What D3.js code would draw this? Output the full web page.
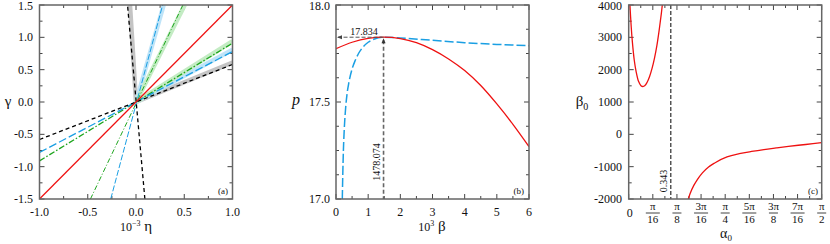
<!DOCTYPE html>
<html><head><meta charset="utf-8">
<script src="https://cdn.jsdelivr.net/npm/d3@7"></script>
<style>body{margin:0;background:#fff}text{font-family:"Liberation Serif","DejaVu Serif",serif;fill:#111}</style>
</head><body><svg id="c" width="830" height="244"></svg>
<script>
// ---------- Panel (a) data ----------
const aXTicks = [-1.0, -0.5, 0.0, 0.5, 1.0];
const aYTicks = [-1.5, -1.0, -0.5, 0.0, 0.5, 1.0, 1.5];
const etaEnds = [-1, 1];
const blackShallowGamma = [-0.58, 0.58];
const blueShallowGamma = [-0.78, 0.78];
const greenShallowGamma = [-0.91, 0.91];
const redGamma = [-1.5, 1.5];
const gammaEnds = [-1.5, 1.5];
const blackSteepEta = [0.092, -0.088];
const blueSteepEta = [-0.262, 0.276];
const greenSteepEta = [-0.472, 0.486];
// shaded bands (gamma > 0 half)
const bandEtaShallow = [0, 1];
const grayBandShallowGamma = [0, 0.61];
const blueBandShallowGamma = [0, 0.81];
const greenBandShallowGamma = [0, 0.94];
const bandGammaSteep = [0, 1.5];
const grayBandSteepEta = [0, -0.062];
const blueBandSteepEta = [0, 0.287];
const greenBandSteepEta = [0, 0.505];

// ---------- Panel (b) data ----------
const bXTicks = [0, 1, 2, 3, 4, 5, 6];
const bYTicks = [17.0, 17.5, 18.0];
const bRedBeta = [0, 0.5, 1.0, 1.478, 2.0, 2.5, 3.0, 3.5, 4.0, 4.5, 5.0, 5.5, 6.0];
const bRedP = [17.775, 17.808, 17.828, 17.834, 17.827, 17.806, 17.770, 17.722, 17.662, 17.585, 17.490, 17.385, 17.270];
const bBlueBeta = [0.196, 0.21, 0.23, 0.26, 0.30, 0.35, 0.40, 0.50, 0.60, 0.70, 0.80, 1.0, 1.2, 1.478, 2.0, 3.0, 4.0, 5.0, 6.0];
const bBlueP = [17.0, 17.12, 17.25, 17.37, 17.47, 17.55, 17.60, 17.67, 17.715, 17.750, 17.775, 17.808, 17.825, 17.834, 17.830, 17.818, 17.806, 17.797, 17.790];
const peakBeta = 1.478074, peakP = 17.834;

// ---------- Panel (c) data ----------
const cYTicks = [-2000, -1000, 0, 1000, 2000, 3000, 4000];
const cXTickNum = ["", "π", "π", "3π", "π", "5π", "3π", "7π", "π"];
const cXTickDen = ["", "16", "8", "16", "4", "16", "8", "16", "2"];
const cLeftAlpha = [0.010, 0.020, 0.030, 0.045, 0.060, 0.080, 0.100, 0.115, 0.130, 0.150, 0.170, 0.190, 0.210, 0.230, 0.250, 0.265, 0.275];
const cLeftBeta  = [4000, 3350, 2850, 2300, 1950, 1640, 1505, 1480, 1500, 1610, 1790, 2040, 2360, 2760, 3280, 3720, 4050];
const cRightAlpha = [0.485, 0.50, 0.53, 0.56, 0.60, 0.65, 0.70, 0.80, 0.90, 1.0, 1.1, 1.2, 1.3, 1.4, 1.5, 1.5708];
const cRightBeta  = [-2000, -1830, -1580, -1390, -1190, -1010, -885, -700, -600, -530, -470, -420, -372, -330, -290, -258];
const alphaMark = 0.343;

// ---------- helpers ----------
const svg = d3.select("#c");
const TOP = 5, BOT = 199;

function frame(g, x, y, xMaj, xMin, yMaj, yMin, id) {
  const [x0, x1] = x.range(), [y1, y0] = y.range();
  g.append("clipPath").attr("id", id).append("rect")
    .attr("x", x0).attr("y", y0).attr("width", x1 - x0).attr("height", y1 - y0);
  const t = g.append("g").attr("stroke", "#444").attr("stroke-width", 1);
  const tk = (arr, len) => {
    arr.forEach(v => {
      const px = x(v);
      t.append("line").attr("x1", px).attr("x2", px).attr("y1", y1).attr("y2", y1 - len);
      t.append("line").attr("x1", px).attr("x2", px).attr("y1", y0).attr("y2", y0 + len);
    });
  };
  const tky = (arr, len) => {
    arr.forEach(v => {
      const py = y(v);
      t.append("line").attr("y1", py).attr("y2", py).attr("x1", x0).attr("x2", x0 + len);
      t.append("line").attr("y1", py).attr("y2", py).attr("x1", x1).attr("x2", x1 - len);
    });
  };
  tk(xMaj, 5); tk(xMin, 3); tky(yMaj, 5); tky(yMin, 3);
}
function border(g, x, y) {
  const [x0, x1] = x.range(), [y1, y0] = y.range();
  g.append("rect").attr("x", x0).attr("y", y0).attr("width", x1 - x0).attr("height", y1 - y0)
    .attr("fill", "none").attr("stroke", "#666").attr("stroke-width", 1.5);
}
const seg = (g, x, y, xs, ys, clip) => g.append("path")
  .attr("d", d3.line().x(d => x(d[0])).y(d => y(d[1]))(xs.map((v, i) => [v, ys[i]])))
  .attr("fill", "none").attr("clip-path", `url(#${clip})`);

// ---------- Panel (a) ----------
{
  const g = svg.append("g");
  const x = d3.scaleLinear().domain([-1, 1]).range([39.5, 232.5]);
  const y = d3.scaleLinear().domain([-1.5, 1.5]).range([BOT, TOP]);
  frame(g, x, y, aXTicks, [-0.75, -0.25, 0.25, 0.75], aYTicks, [-1.25, -0.75, -0.25, 0.25, 0.75, 1.25], "clipA");
  // bands
  seg(g, x, y, bandEtaShallow, grayBandShallowGamma, "clipA").attr("stroke", "#c4c4c4").attr("stroke-width", 4.5);
  seg(g, x, y, grayBandSteepEta, bandGammaSteep, "clipA").attr("stroke", "#c4c4c4").attr("stroke-width", 4.5);
  seg(g, x, y, bandEtaShallow, blueBandShallowGamma, "clipA").attr("stroke", "#bfe4f8").attr("stroke-width", 4.5);
  seg(g, x, y, blueBandSteepEta, bandGammaSteep, "clipA").attr("stroke", "#bfe4f8").attr("stroke-width", 4.5);
  seg(g, x, y, bandEtaShallow, greenBandShallowGamma, "clipA").attr("stroke", "#c4ecc4").attr("stroke-width", 4.5);
  seg(g, x, y, greenBandSteepEta, bandGammaSteep, "clipA").attr("stroke", "#c4ecc4").attr("stroke-width", 4.5);
  // lines
  seg(g, x, y, etaEnds, greenShallowGamma, "clipA").attr("stroke", "#1ea51e").attr("stroke-width", 1.3).attr("stroke-dasharray", "6,2,1.5,2");
  seg(g, x, y, greenSteepEta, gammaEnds, "clipA").attr("stroke", "#1ea51e").attr("stroke-width", 1).attr("stroke-dasharray", "5,2,1,2");
  seg(g, x, y, etaEnds, blueShallowGamma, "clipA").attr("stroke", "#1a9fe3").attr("stroke-width", 1.3).attr("stroke-dasharray", "8,3");
  seg(g, x, y, blueSteepEta, gammaEnds, "clipA").attr("stroke", "#1a9fe3").attr("stroke-width", 1).attr("stroke-dasharray", "6,2");
  seg(g, x, y, etaEnds, blackShallowGamma, "clipA").attr("stroke", "#000").attr("stroke-width", 1.3).attr("stroke-dasharray", "4,3");
  seg(g, x, y, blackSteepEta, gammaEnds, "clipA").attr("stroke", "#000").attr("stroke-width", 1.3).attr("stroke-dasharray", "4,3");
  seg(g, x, y, etaEnds, redGamma, "clipA").attr("stroke", "#ee1111").attr("stroke-width", 1.3);
  border(g, x, y);
  aXTicks.forEach(v => g.append("text").attr("x", x(v)).attr("y", 216).attr("text-anchor", "middle").attr("font-size", 12).text(v.toFixed(1)));
  aYTicks.forEach(v => g.append("text").attr("x", 33).attr("y", Math.max(y(v) + 4, 10)).attr("text-anchor", "end").attr("font-size", 12).text(v.toFixed(1)));
  g.append("text").attr("x", 8).attr("y", 106).attr("text-anchor", "middle").attr("font-size", 15).text("γ");
  const xl = g.append("text").attr("x", 136).attr("y", 231).attr("text-anchor", "middle").attr("font-size", 12);
  xl.append("tspan").text("10");
  xl.append("tspan").attr("font-size", 8).attr("dy", -5).text("−3");
  xl.append("tspan").attr("font-size", 15).attr("dy", 5).text(" η");
  g.append("text").attr("x", 228).attr("y", 194).attr("text-anchor", "end").attr("font-size", 9).text("(a)");
}

// ---------- Panel (b) ----------
{
  const g = svg.append("g");
  const x = d3.scaleLinear().domain([0, 6]).range([336, 529]);
  const y = d3.scaleLinear().domain([17, 18]).range([BOT, TOP]);
  frame(g, x, y, bXTicks, [0.5, 1.5, 2.5, 3.5, 4.5, 5.5], bYTicks, [17.125, 17.25, 17.375, 17.625, 17.75, 17.875], "clipB");
  seg(g, x, y, bBlueBeta, bBlueP, "clipB").attr("d", d3.line().curve(d3.curveMonotoneX).x(d => x(d[0])).y(d => y(d[1]))(bBlueBeta.map((v, i) => [v, bBlueP[i]])))
    .attr("stroke", "#1a9fe3").attr("stroke-width", 1.5).attr("stroke-dasharray", "9,3");
  seg(g, x, y, bRedBeta, bRedP, "clipB").attr("d", d3.line().curve(d3.curveMonotoneX).x(d => x(d[0])).y(d => y(d[1]))(bRedBeta.map((v, i) => [v, bRedP[i]])))
    .attr("stroke", "#ee1111").attr("stroke-width", 1.3);
  // annotations
  const px = x(peakBeta), py = y(peakP);
  g.append("line").attr("x1", px).attr("x2", x(0) + 2).attr("y1", py).attr("y2", py)
    .attr("stroke", "#555").attr("stroke-width", 1).attr("stroke-dasharray", "4,2");
  g.append("path").attr("d", `M${x(0) + 1},${py} l5,-2 l0,4 z`).attr("fill", "#444");
  g.append("line").attr("x1", px).attr("x2", px).attr("y1", py + 3).attr("y2", BOT)
    .attr("stroke", "#666").attr("stroke-width", 1.6).attr("stroke-dasharray", "4,2.5");
  g.append("path").attr("d", `M${px},${py + 1} l-2,5 l4,0 z`).attr("fill", "#333");
  g.append("text").attr("x", 364).attr("y", 34.5).attr("text-anchor", "middle").attr("font-size", 10).text("17.834");
  g.append("text").attr("transform", `translate(${px - 4},162) rotate(-90)`).attr("text-anchor", "middle").attr("font-size", 10).text("1478.074");
  border(g, x, y);
  bXTicks.forEach(v => g.append("text").attr("x", x(v)).attr("y", 216).attr("text-anchor", "middle").attr("font-size", 12).text(v));
  bYTicks.forEach(v => g.append("text").attr("x", 330).attr("y", Math.max(y(v) + 4, 10)).attr("text-anchor", "end").attr("font-size", 12).text(v.toFixed(1)));
  g.append("text").attr("x", 296).attr("y", 105).attr("text-anchor", "middle").attr("font-size", 16).attr("font-style", "italic").text("p");
  const xl = g.append("text").attr("x", 432).attr("y", 231).attr("text-anchor", "middle").attr("font-size", 12);
  xl.append("tspan").text("10");
  xl.append("tspan").attr("font-size", 8).attr("dy", -5).text("3");
  xl.append("tspan").attr("font-size", 15).attr("dy", 5).text(" β");
  g.append("text").attr("x", 524).attr("y", 194).attr("text-anchor", "end").attr("font-size", 9).text("(b)");
}

// ---------- Panel (c) ----------
{
  const g = svg.append("g");
  const x = d3.scaleLinear().domain([0, Math.PI / 2]).range([628.7, 821.7]);
  const y = d3.scaleLinear().domain([-2000, 4000]).range([BOT, TOP]);
  const xMaj = d3.range(9).map(k => k * Math.PI / 16);
  const xMin = d3.range(8).map(k => (2 * k + 1) * Math.PI / 32);
  frame(g, x, y, xMaj, xMin, cYTicks, [-1500, -500, 500, 1500, 2500, 3500], "clipC");
  g.append("line").attr("x1", x(alphaMark)).attr("x2", x(alphaMark)).attr("y1", TOP).attr("y2", BOT)
    .attr("stroke", "#000").attr("stroke-width", 1).attr("stroke-dasharray", "4,2");
  g.append("text").attr("transform", `translate(${x(alphaMark) - 4},181) rotate(-90)`).attr("text-anchor", "middle").attr("font-size", 10).text("0.343");
  const cl = d3.line().curve(d3.curveMonotoneX).x(d => x(d[0])).y(d => y(d[1]));
  g.append("path").attr("d", d3.line().curve(d3.curveCatmullRom).x(d => x(d[0])).y(d => y(d[1]))(cLeftAlpha.map((v, i) => [v, cLeftBeta[i]])))
    .attr("fill", "none").attr("stroke", "#ee1111").attr("stroke-width", 1.3).attr("clip-path", "url(#clipC)");
  g.append("path").attr("d", cl(cRightAlpha.map((v, i) => [v, cRightBeta[i]])))
    .attr("fill", "none").attr("stroke", "#ee1111").attr("stroke-width", 1.3).attr("clip-path", "url(#clipC)");
  border(g, x, y);
  cYTicks.forEach(v => g.append("text").attr("x", 622).attr("y", Math.max(y(v) + 4, 10)).attr("text-anchor", "end").attr("font-size", 12).text(v));
  g.append("text").attr("x", x(0) + 1).attr("y", 217).attr("text-anchor", "middle").attr("font-size", 12).text("0");
  for (let k = 1; k < 9; k++) {
    const cx = x(xMaj[k]);
    g.append("text").attr("x", cx).attr("y", 210).attr("text-anchor", "middle").attr("font-size", 11).text(cXTickNum[k]);
    const w = cXTickDen[k].length > 1 ? 12 : 7;
    g.append("line").attr("x1", cx - w / 2 - 1).attr("x2", cx + w / 2 + 1).attr("y1", 213).attr("y2", 213).attr("stroke", "#111").attr("stroke-width", 0.8);
    g.append("text").attr("x", cx).attr("y", 223).attr("text-anchor", "middle").attr("font-size", 11).text(cXTickDen[k]);
  }
  g.append("text").attr("x", 582).attr("y", 106).attr("text-anchor", "middle").attr("font-size", 15)
    .call(t => { t.append("tspan").text("β"); t.append("tspan").attr("font-size", 10).attr("dy", 4).text("0"); });
  g.append("text").attr("x", 726).attr("y", 238).attr("text-anchor", "middle").attr("font-size", 14)
    .call(t => { t.append("tspan").text("α"); t.append("tspan").attr("font-size", 9).attr("dy", 3).text("0"); });
  g.append("text").attr("x", 818).attr("y", 194).attr("text-anchor", "end").attr("font-size", 9).text("(c)");
}
</script></body></html>
